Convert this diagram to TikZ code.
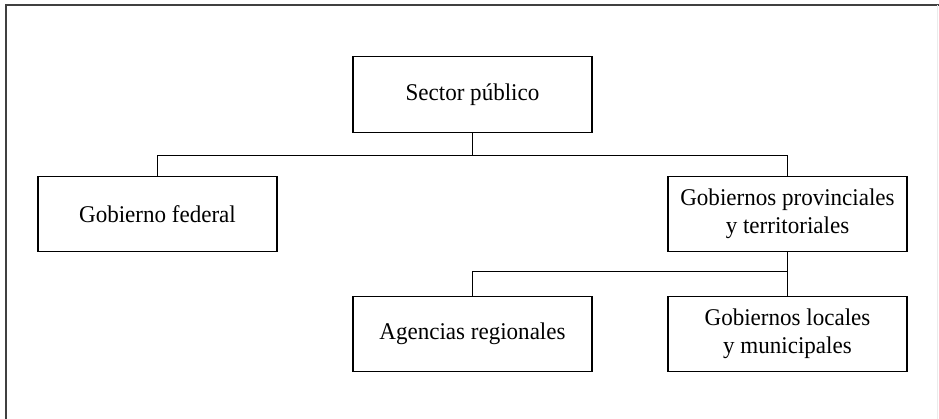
\documentclass[tikz,border=0pt]{standalone}
\usepackage{fontspec}
\setmainfont{Liberation Serif}[FakeStretch=0.96]
\begin{document}
\begin{tikzpicture}[x=1pt,y=-1pt,
  orgbox/.style={draw=black,line width=1.3pt,minimum width=239pt,minimum height=75.5pt,
    align=center,inner sep=0pt,font=\fontsize{24}{28}\selectfont},
  link/.style={draw=black,line width=1.3pt}]
\useasboundingbox (0,0) rectangle (939,419);
\draw[line width=2pt,draw=black!75] (5.5,419) -- (5.5,5.5) -- (939,5.5);
\draw[line width=1pt,draw=black!8] (937.5,5.5) -- (937.5,419);
\node[orgbox] (sp) at (472.5,94.5) {Sector público};
\node[orgbox] (gf) at (157.5,214) {Gobierno federal};
\node[orgbox] (gp) at (787.5,214) {Gobiernos provinciales\\y territoriales};
\node[orgbox] (ar) at (472.5,334) {Agencias regionales};
\node[orgbox] (gl) at (787.5,334) {Gobiernos locales\\y municipales};
\coordinate (j1) at (472.5,155.7);
\coordinate (j2) at (787.5,271.7);
\draw[link] (sp.south) -- (j1);
\draw[link] (gf.north) |- (j1) -| (gp.north);
\draw[link] (gp.south) -- (gl.north);
\draw[link] (ar.north) |- (j2);
\end{tikzpicture}
\end{document}
